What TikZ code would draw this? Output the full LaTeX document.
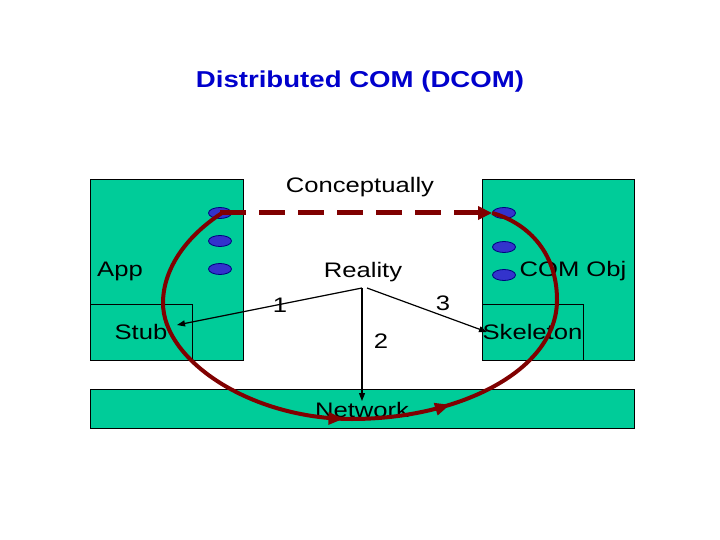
\documentclass[tikz,border=0pt]{standalone}
\usepackage{fontspec}
\setmainfont{Liberation Sans}[FakeStretch=1.22]
\newfontfamily\titlefont{Liberation Sans}[FakeStretch=1.2]
\usetikzlibrary{shapes.geometric,arrows.meta,decorations.markings}
\definecolor{tealbox}{RGB}{0,204,153}
\definecolor{ovalblue}{RGB}{51,51,204}
\definecolor{ovalline}{RGB}{0,0,128}
\definecolor{maroon}{RGB}{128,0,0}
\definecolor{titleblue}{RGB}{0,0,204}
\begin{document}
\begin{tikzpicture}[x=1pt,y=-1pt,
  box/.style={draw=black, line width=0.8pt, fill=tealbox, inner sep=0pt},
  oval/.style={ellipse, draw=ovalline, line width=0.8pt, fill=ovalblue, minimum width=23pt, minimum height=11pt, inner sep=0pt},
  lbl/.style={inner sep=0pt, font=\fontsize{21}{25}\selectfont},
  thinarrow/.style={line width=1.2pt, -{Triangle[length=8pt,width=6pt]}},
  loop/.style={draw=maroon, line width=4pt},
  redtip/.style={maroon, line width=4pt},
]
\useasboundingbox (0,0) rectangle (720,540);
% boxes
\node[box, minimum width=153pt, minimum height=181pt] (app) at (166.5,269.5) {};
\node[box, minimum width=152pt, minimum height=181pt] (comobj) at (558,269.5) {};
\node[box, minimum width=102pt, minimum height=56pt, lbl] (stub) at (141,332) {Stub};
\node[box, minimum width=101pt, minimum height=56pt, lbl] (skel) at (532.5,332) {Skeleton};
\node[box, minimum width=544pt, minimum height=39pt] (net) at (362,408.5) {};
\node[lbl] (nettext) at (362,410) {Network};
% ovals
\node[oval] (L1) at (220,213) {};
\node[oval] (L2) at (220,241) {};
\node[oval] (L3) at (220,269) {};
\node[oval] (R1) at (504,213) {};
\node[oval] (R2) at (504,247) {};
\node[oval] (R3) at (504,275) {};
% texts
\node[inner sep=0pt, text=titleblue, font=\titlefont\bfseries\fontsize{23}{27}\selectfont] (title) at (360,82) {Distributed COM (DCOM)};
\node[lbl] (concept) at (360,187) {Conceptually};
\node[lbl] (apptext) at (120,271) {App};
\node[lbl] (reality) at (363,272) {Reality};
\node[lbl] (comtext) at (573,271) {COM Obj};
\node[lbl] (n1) at (280,305) {1};
\node[lbl] (n2) at (381,341) {2};
\node[lbl] (n3) at (443,303) {3};
% reality connectors
\coordinate (apex) at (362,288);
\coordinate (apexr) at (367,288);
\coordinate (stubend) at (177,325);
\coordinate (netend) at (362,401);
\coordinate (skelend) at (487,332);
\draw[thinarrow] (apex) -- (stubend);
\draw[thinarrow] (apex) -- (netend);
\draw[thinarrow] (apexr) -- (skelend);
% dashed conceptual arrow
\draw[maroon, line width=5pt, dash pattern=on 26pt off 13pt, -{Triangle[length=14pt,width=13pt]}] (L1.center) -- (R1.west);
% red loop
\coordinate (P1) at (163,303);
\coordinate (P2) at (352,419);
\coordinate (P3) at (557,300);
\draw[loop, postaction={decorate}, decoration={markings,
    mark=at position 0.472 with {\arrow[redtip]{Triangle[length=15pt,width=12pt]}},
    mark=at position 0.62 with {\arrow[redtip]{Triangle[length=15pt,width=12pt]}}}]
  ([xshift=2pt]L1.center) .. controls (185,237) and (163,270) .. (P1)
  .. controls (163,360) and (250,419) .. (P2)
  .. controls (460,419) and (557,370) .. (P3)
  .. controls (557,250) and (525,222) .. (R1.west);
\end{tikzpicture}
\end{document}
